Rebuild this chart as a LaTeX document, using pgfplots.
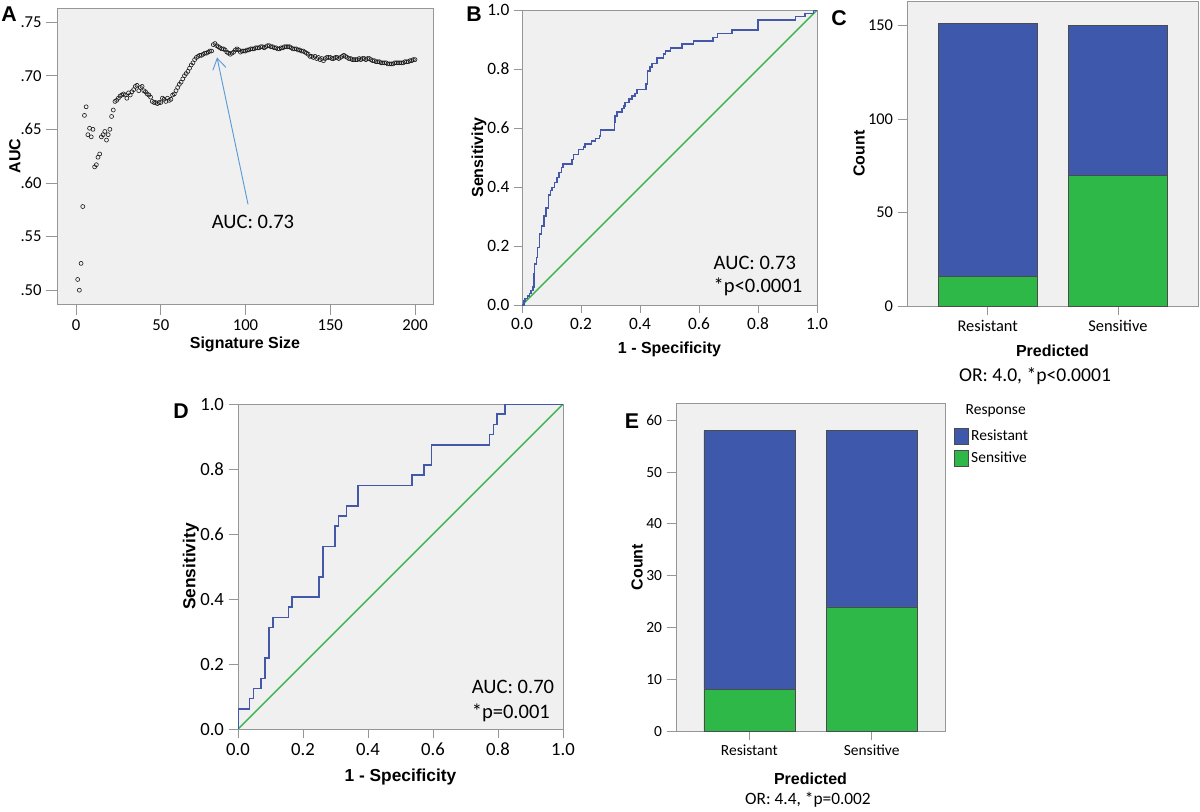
\documentclass[border=0pt]{standalone}
\usepackage{pgfplots}
\pgfplotsset{compat=1.18}
\usetikzlibrary{arrows.meta}
\usepackage{fontspec}
\setmainfont{Carlito}
\newfontfamily\arialf{Liberation Sans}
\definecolor{spssblue}{RGB}{62,88,172}
\definecolor{spssgreen}{RGB}{46,184,72}
\definecolor{bggray}{RGB}{240,240,240}
\definecolor{framegray}{RGB}{150,150,150}
\definecolor{rocblue}{RGB}{68,88,170}
\definecolor{diaggreen}{RGB}{56,180,74}
\definecolor{arrowblue}{RGB}{91,155,213}
\pgfplotsset{
  spss/.style={
    scale only axis,
    anchor=south west,
    axis background/.style={fill=bggray},
    axis line style={draw=framegray, line width=0.6pt},
    tick style={draw=framegray, line width=0.6pt},
    tick align=outside,
    tick pos=left,
    major tick length=6pt,
    /pgf/number format/assume math mode=true,
    label style={font=\arialf\bfseries\fontsize{12}{14}\selectfont},
  }
}
\begin{document}
\begin{tikzpicture}
\begin{scope}[x=0.75pt,y=-0.75pt]
\path[use as bounding box] (0,0) rectangle (1200,810);
\node[font=\arialf\bfseries\fontsize{16}{16}\selectfont] at (9,13) {A};
\node[font=\arialf\bfseries\fontsize{16}{16}\selectfont] at (474,13) {B};
\node[font=\arialf\bfseries\fontsize{16}{16}\selectfont] at (839,17) {C};
\node[font=\arialf\bfseries\fontsize{16}{16}\selectfont] at (181,410) {D};
\node[font=\arialf\bfseries\fontsize{16}{16}\selectfont] at (632,420) {E};
\node[font=\fontsize{14.7}{16}\selectfont] at (1035,375) {OR: 4.0, *p<0.0001};
\node[font=\fontsize{13}{15}\selectfont] at (808,799) {OR: 4.4, *p=0.002};
\node[anchor=west, font=\fontsize{11.6}{13}\selectfont] at (961,410) {Response};
\end{scope}

% ---------------- Panel A
\begin{axis}[spss, at={(42.75pt,-227.25pt)}, width=282pt, height=222pt,
  xmin=-11.2, xmax=210.6, ymin=0.487, ymax=0.763,
  xtick={0,50,100,150,200},
  ytick={0.5,0.55,0.6,0.65,0.7,0.75}, yticklabels={.50,.55,.60,.65,.70,.75},
  major tick length=8pt,
  tick label style={font=\fontsize{12.5}{14}\selectfont},
  xlabel={Signature Size}, ylabel={AUC},
  xlabel style={at={(axis description cs:0.5,-0.135)}, anchor=center},
  ylabel style={at={(axis description cs:-0.112,0.5)}, anchor=center},
  clip=false]
\addplot[only marks, mark=o, mark size=1.5pt, mark options={draw=black!90, line width=0.45pt}] table {
x y
1 .510
2 .500
3 .525
4 .578
5 .663
6 .671
7 .645
8 .651
9 .643
10 .650
11 .615
12 .617
13 .624
14 .627
15 .643
16 .645
17 .648
18 .640
19 .645
20 .650
21 .662
22 .668
23 .676
24 .677
25 .679
26 .681
27 .682
28 .683
29 .682
30 .679
31 .684
32 .682
33 .685
34 .687
35 .690
36 .691
37 .686
38 .689
39 .690
40 .686
41 .685
42 .683
43 .682
44 .680
45 .676
46 .675
47 .675
48 .674
49 .675
50 .675
51 .679
52 .678
53 .676
54 .679
55 .677
56 .678
57 .682
58 .683
59 .686
60 .689
61 .692
62 .694
63 .697
64 .700
65 .702
66 .704
67 .707
68 .710
69 .712
70 .715
71 .717
72 .718
73 .719
74 .719
75 .720
76 .721
77 .721
78 .722
79 .723
80 .723
81 .729
82 .730
83 .728
84 .727
85 .726
86 .725
87 .725
88 .724
89 .722
90 .721
91 .720
92 .721
93 .722
94 .724
95 .725
96 .724
97 .722
98 .723
99 .723
100 .723
101 .724
102 .724
103 .725
104 .725
105 .725
106 .726
107 .726
108 .726
109 .727
110 .727
111 .726
112 .727
113 .728
114 .728
115 .727
116 .727
117 .726
118 .726
119 .725
120 .725
121 .726
122 .726
123 .727
124 .727
125 .727
126 .727
127 .726
128 .725
129 .725
130 .725
131 .724
132 .724
133 .723
134 .723
135 .722
136 .721
137 .720
138 .718
139 .718
140 .717
141 .718
142 .716
143 .717
144 .715
145 .716
146 .714
147 .716
148 .717
149 .717
150 .717
151 .716
152 .716
153 .717
154 .717
155 .716
156 .717
157 .718
158 .719
159 .718
160 .717
161 .716
162 .716
163 .715
164 .715
165 .715
166 .715
167 .716
168 .715
169 .716
170 .716
171 .715
172 .716
173 .716
174 .715
175 .714
176 .714
177 .713
178 .713
179 .713
180 .712
181 .712
182 .712
183 .712
184 .711
185 .711
186 .711
187 .711
188 .712
189 .712
190 .712
191 .712
192 .712
193 .712
194 .713
195 .713
196 .713
197 .714
198 .714
199 .715
200 .715
};
\draw[arrowblue, line width=0.7pt, -{Straight Barb[length=8pt,width=10pt]}] (axis cs:101.5,0.580) -- (axis cs:83.2,0.717);
\node[font=\fontsize{15.4}{17}\selectfont] at (axis cs:104.4,0.5634) {AUC: 0.73};
\end{axis}

% ---------------- Panel B
\begin{axis}[spss, at={(391.5pt,-228pt)}, width=221.25pt, height=221.25pt,
  xmin=0, xmax=1, ymin=0, ymax=1,
  xtick={0,0.2,0.4,0.6,0.8,1}, xticklabels={0.0,0.2,0.4,0.6,0.8,1.0},
  ytick={0,0.2,0.4,0.6,0.8,1}, yticklabels={0.0,0.2,0.4,0.6,0.8,1.0},
  tick label style={font=\fontsize{13}{15}\selectfont},
  xlabel={1 - Specificity}, ylabel={Sensitivity},
  xlabel style={at={(axis description cs:0.5,-0.149)}, anchor=center},
  ylabel style={at={(axis description cs:-0.146,0.5)}, anchor=center}]
\addplot[diaggreen, line width=1pt] coordinates {(0,0) (1,1)};
\addplot[rocblue, line width=1.2pt] table {
x y
0 0
0.006 0
0.006 0.015
0.011 0.015
0.011 0.023
0.019 0.023
0.019 0.032
0.025 0.032
0.025 0.040
0.031 0.040
0.031 0.049
0.037 0.049
0.037 0.062
0.040 0.062
0.040 0.105
0.043 0.105
0.043 0.139
0.049 0.139
0.049 0.162
0.053 0.162
0.053 0.195
0.059 0.195
0.059 0.241
0.066 0.241
0.066 0.269
0.075 0.269
0.075 0.303
0.082 0.303
0.082 0.329
0.090 0.329
0.090 0.373
0.096 0.373
0.096 0.388
0.102 0.388
0.102 0.399
0.110 0.399
0.110 0.416
0.118 0.416
0.118 0.433
0.126 0.433
0.126 0.450
0.134 0.450
0.134 0.466
0.139 0.466
0.139 0.478
0.169 0.478
0.169 0.494
0.174 0.494
0.174 0.511
0.191 0.511
0.191 0.528
0.208 0.528
0.208 0.537
0.213 0.537
0.213 0.547
0.236 0.547
0.236 0.556
0.249 0.556
0.249 0.565
0.263 0.565
0.263 0.574
0.266 0.574
0.266 0.593
0.313 0.593
0.313 0.620
0.316 0.620
0.316 0.642
0.322 0.642
0.322 0.655
0.339 0.655
0.339 0.666
0.345 0.666
0.345 0.676
0.350 0.676
0.350 0.687
0.362 0.687
0.362 0.698
0.373 0.698
0.373 0.708
0.383 0.708
0.383 0.718
0.390 0.718
0.390 0.731
0.421 0.731
0.421 0.750
0.426 0.750
0.426 0.794
0.433 0.794
0.433 0.808
0.441 0.808
0.441 0.819
0.458 0.819
0.458 0.837
0.480 0.837
0.480 0.851
0.486 0.851
0.486 0.862
0.503 0.862
0.503 0.872
0.542 0.872
0.542 0.885
0.582 0.885
0.582 0.896
0.647 0.896
0.647 0.907
0.663 0.907
0.663 0.921
0.712 0.921
0.712 0.932
0.799 0.932
0.799 0.966
0.927 0.966
0.927 0.978
0.960 0.978
0.960 0.989
0.988 0.989
0.988 1.0
1.0 1.0
};
\node[anchor=west, font=\fontsize{15.4}{17}\selectfont] at (axis cs:0.634,0.142) {AUC: 0.73};
\node[anchor=west, font=\fontsize{15.4}{17}\selectfont] at (axis cs:0.634,0.061) {*p<0.0001};
\end{axis}

% ---------------- Panel C
\begin{axis}[spss, ybar stacked, at={(680.25pt,-228.75pt)}, width=218.25pt, height=228.75pt,
  xmin=-0.62, xmax=1.615, ymin=0, ymax=163,
  xtick={0,1}, xticklabels={Resistant,Sensitive},
  ytick={0,50,100,150}, bar width=74.25pt, major tick length=7pt,
  tick label style={font=\fontsize{12.3}{14}\selectfont},
  xlabel={Predicted}, ylabel={Count},
  xlabel style={at={(axis description cs:0.5,-0.148)}, anchor=center},
  ylabel style={at={(axis description cs:-0.165,0.5)}, anchor=center}]
\addplot[fill=spssgreen, draw=black!70, line width=0.4pt] coordinates {(0,16) (1,70)};
\addplot[fill=spssblue, draw=black!70, line width=0.4pt] coordinates {(0,135) (1,80)};
\end{axis}

% ---------------- Panel D
\begin{axis}[spss, at={(178.5pt,-546pt)}, width=243.75pt, height=243.75pt,
  xmin=0, xmax=1, ymin=0, ymax=1,
  xtick={0,0.2,0.4,0.6,0.8,1}, xticklabels={0.0,0.2,0.4,0.6,0.8,1.0},
  ytick={0,0.2,0.4,0.6,0.8,1}, yticklabels={0.0,0.2,0.4,0.6,0.8,1.0},
  major tick length=7pt,
  tick label style={font=\fontsize{14}{16}\selectfont},
  label style={font=\arialf\bfseries\fontsize{13}{15}\selectfont},
  xlabel={1 - Specificity}, ylabel={Sensitivity},
  xlabel style={at={(axis description cs:0.5,-0.148)}, anchor=center},
  ylabel style={at={(axis description cs:-0.145,0.5)}, anchor=center}]
\addplot[diaggreen, line width=1pt] coordinates {(0,0) (1,1)};
\addplot[rocblue, line width=1.2pt] table {
x y
0 0
0 0.0625
0.0357 0.0625
0.0357 0.09375
0.0476 0.09375
0.0476 0.125
0.0714 0.125
0.0714 0.15625
0.0833 0.15625
0.0833 0.21875
0.0952 0.21875
0.0952 0.3125
0.1071 0.3125
0.1071 0.34375
0.1548 0.34375
0.1548 0.375
0.1667 0.375
0.1667 0.40625
0.25 0.40625
0.25 0.46875
0.2619 0.46875
0.2619 0.5625
0.2976 0.5625
0.2976 0.625
0.3095 0.625
0.3095 0.65625
0.3333 0.65625
0.3333 0.6875
0.369 0.6875
0.369 0.75
0.5357 0.75
0.5357 0.78125
0.5714 0.78125
0.5714 0.8125
0.5952 0.8125
0.5952 0.875
0.7738 0.875
0.7738 0.90625
0.7857 0.90625
0.7857 0.9375
0.7976 0.9375
0.7976 0.96875
0.8214 0.96875
0.8214 1
1 1
};
\node[anchor=west, font=\fontsize{15.4}{17}\selectfont] at (axis cs:0.705,0.129) {AUC: 0.70};
\node[anchor=west, font=\fontsize{15.4}{17}\selectfont] at (axis cs:0.705,0.049) {*p=0.001};
\end{axis}

% ---------------- Panel E
\begin{axis}[spss, ybar stacked, at={(507pt,-547.5pt)}, width=201.75pt, height=246pt,
  xmin=-0.60, xmax=1.60, ymin=0, ymax=63.3,
  xtick={0,1}, xticklabels={Resistant,Sensitive},
  ytick={0,10,20,30,40,50,60}, bar width=68.25pt, major tick length=7pt,
  tick label style={font=\fontsize{11.6}{13}\selectfont},
  xlabel={Predicted}, ylabel={Count},
  xlabel style={at={(axis description cs:0.5,-0.146)}, anchor=center},
  ylabel style={at={(axis description cs:-0.145,0.5)}, anchor=center},
  every axis plot post/.append style={legend image code/.code={\draw[#1, line width=0.3pt] (0pt,-6pt) rectangle (10.5pt,6pt);}},
  reverse legend, legend cell align=left,
  legend style={at={(1.033,0.925)}, anchor=north west, draw=none, fill=none,
    font=\fontsize{11.6}{13}\selectfont, inner sep=0pt, row sep=4.5pt, column sep=1.5pt,
    nodes={inner sep=0.5pt}}]
\addplot[fill=spssgreen, draw=black!70, line width=0.4pt] coordinates {(0,8) (1,24)};
\addplot[fill=spssblue, draw=black!70, line width=0.4pt] coordinates {(0,50) (1,34)};
\legend{Sensitive,Resistant}
\end{axis}
\end{tikzpicture}
\end{document}
